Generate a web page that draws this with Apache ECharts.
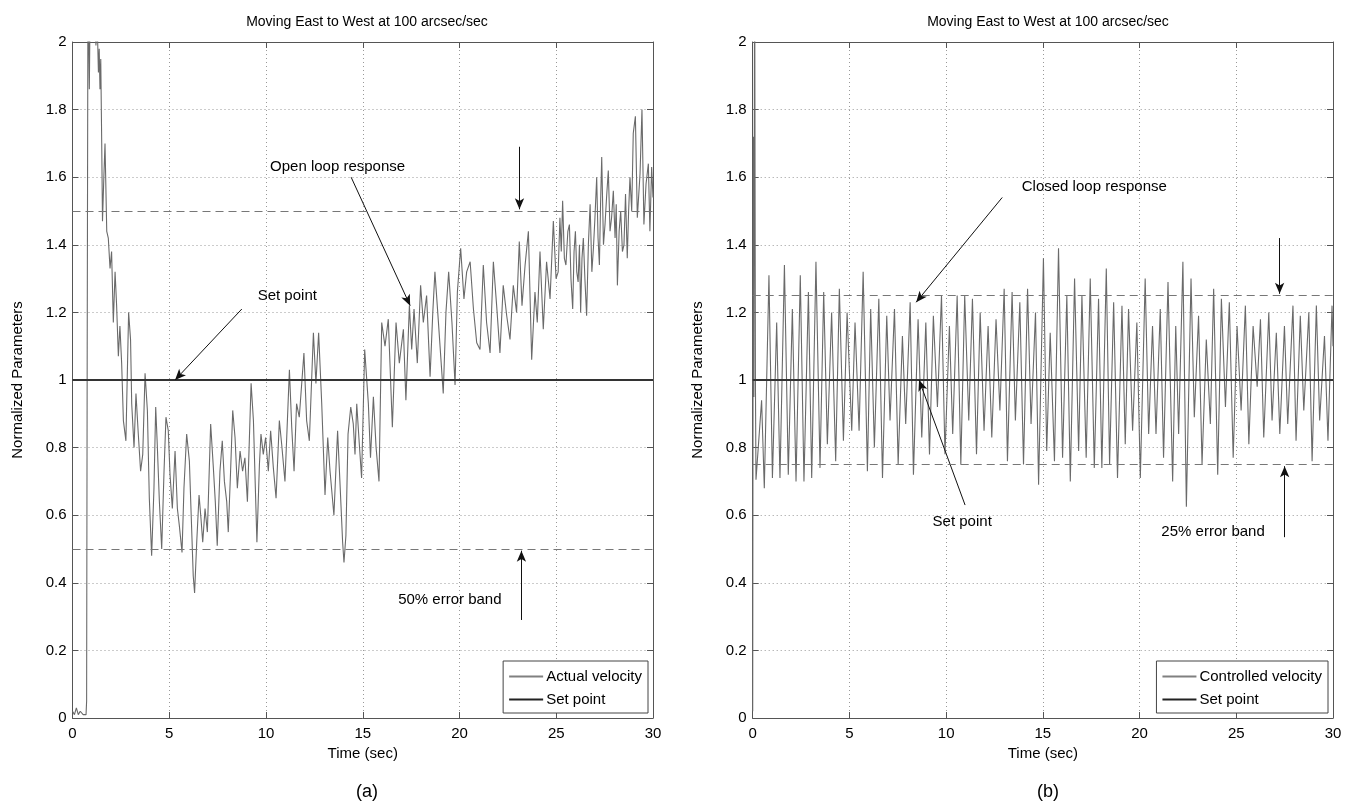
<!DOCTYPE html>
<html>
<head>
<meta charset="utf-8">
<script src="https://cdn.jsdelivr.net/npm/echarts@6/dist/echarts.min.js"></script>
<style>
html,body{margin:0;padding:0;background:#fff;}
#chart{width:1356px;height:807px;}
</style>
</head>
<body>
<div id="chart"></div>
<script>
// ---------- DATA ----------
const panelTitles = ['Moving East to West at 100 arcsec/sec', 'Moving East to West at 100 arcsec/sec'];
const panelTags = ['(a)', '(b)'];
const xTicks = [0, 5, 10, 15, 20, 25, 30];
const yTicks = [0, 0.2, 0.4, 0.6, 0.8, 1, 1.2, 1.4, 1.6, 1.8, 2];
const setPoint = 1;
const leftBand = [1.5, 0.5];
const rightBand = [1.25, 0.75];

// (a) open loop: [time sec, normalized value]
const actualVelocity = [
[0,0.02],[0.1,0.01],[0.2,0.03],[0.3,0.01],[0.4,0.02],[0.55,0.01],[0.7,0.01],[0.73,0.05],[0.76,1.1],[0.8,2.2],
[0.87,1.86],[0.94,2.3],[1.05,2.4],[1.15,2.15],[1.21,1.99],[1.28,2.05],[1.34,1.91],[1.38,1.98],[1.42,1.86],[1.46,1.95],
[1.51,1.70],[1.55,1.47],[1.62,1.60],[1.68,1.70],[1.77,1.44],[1.85,1.42],[1.94,1.33],[2.02,1.38],[2.11,1.17],[2.2,1.32],
[2.28,1.22],[2.37,1.07],[2.45,1.16],[2.54,1.05],[2.63,0.88],[2.76,0.82],[2.9,1.20],[3.0,1.12],[3.06,0.93],[3.18,0.80],
[3.28,0.96],[3.4,0.84],[3.52,0.73],[3.63,0.78],[3.75,1.02],[3.87,0.91],[3.97,0.65],[4.09,0.48],[4.21,0.68],[4.3,0.92],
[4.38,0.81],[4.49,0.64],[4.61,0.50],[4.73,0.73],[4.83,0.89],[4.95,0.85],[5.04,0.72],[5.16,0.62],[5.3,0.79],[5.42,0.62],
[5.52,0.57],[5.66,0.49],[5.76,0.68],[5.9,0.84],[6.04,0.76],[6.14,0.59],[6.24,0.42],[6.31,0.37],[6.42,0.52],[6.54,0.66],
[6.64,0.59],[6.73,0.52],[6.85,0.62],[6.97,0.55],[7.14,0.87],[7.28,0.74],[7.38,0.64],[7.48,0.51],[7.62,0.73],[7.74,0.82],
[7.85,0.70],[7.97,0.64],[8.05,0.55],[8.17,0.73],[8.28,0.91],[8.4,0.83],[8.52,0.68],[8.66,0.79],[8.79,0.73],[8.91,0.77],
[9.04,0.64],[9.23,0.99],[9.35,0.88],[9.45,0.68],[9.53,0.52],[9.66,0.75],[9.74,0.84],[9.86,0.78],[9.98,0.83],[10.12,0.73],
[10.24,0.85],[10.38,0.74],[10.52,0.65],[10.69,0.88],[10.81,0.81],[10.98,0.70],[11.21,1.03],[11.33,0.86],[11.45,0.73],[11.58,0.93],
[11.72,0.89],[11.96,1.08],[12.1,0.88],[12.24,0.82],[12.45,1.14],[12.58,0.99],[12.72,1.14],[12.88,0.93],[13.05,0.66],[13.19,0.83],
[13.31,0.73],[13.51,0.60],[13.7,0.85],[13.82,0.70],[13.96,0.52],[14.03,0.46],[14.13,0.54],[14.24,0.84],[14.38,0.92],[14.51,0.87],
[14.6,0.78],[14.69,0.93],[14.8,0.83],[14.94,0.71],[15.1,1.09],[15.29,0.93],[15.4,0.77],[15.55,0.95],[15.69,0.80],[15.84,0.70],
[15.98,1.17],[16.15,1.10],[16.32,1.18],[16.53,0.86],[16.72,1.17],[16.89,1.05],[17.1,1.15],[17.23,0.94],[17.41,1.22],[17.53,1.09],
[17.65,1.21],[17.82,1.05],[17.99,1.28],[18.13,1.17],[18.3,1.25],[18.48,1.01],[18.62,1.20],[18.73,1.32],[18.9,1.18],[19.03,1.07],
[19.16,0.96],[19.3,1.20],[19.44,1.32],[19.61,1.17],[19.77,0.985],[19.89,1.26],[20.06,1.39],[20.23,1.24],[20.37,1.32],[20.55,1.35],
[20.72,1.21],[20.89,1.11],[21.06,1.09],[21.23,1.34],[21.4,1.17],[21.58,1.08],[21.75,1.35],[21.92,1.22],[22.09,1.08],[22.26,1.28],
[22.44,1.19],[22.61,1.12],[22.78,1.28],[22.95,1.20],[23.09,1.41],[23.23,1.22],[23.39,1.34],[23.56,1.44],[23.73,1.06],[23.9,1.26],
[24.02,1.17],[24.16,1.38],[24.33,1.15],[24.5,1.35],[24.68,1.24],[24.85,1.47],[24.99,1.30],[25.1,1.32],[25.19,1.48],[25.26,1.38],
[25.33,1.53],[25.42,1.36],[25.5,1.34],[25.6,1.44],[25.68,1.46],[25.76,1.30],[25.85,1.21],[25.92,1.38],[25.99,1.44],[26.06,1.32],
[26.13,1.29],[26.2,1.40],[26.26,1.20],[26.33,1.36],[26.4,1.42],[26.48,1.30],[26.57,1.19],[26.66,1.40],[26.75,1.52],[26.84,1.32],
[26.92,1.39],[27.0,1.48],[27.09,1.60],[27.16,1.42],[27.23,1.34],[27.29,1.52],[27.35,1.66],[27.44,1.40],[27.52,1.46],[27.6,1.54],
[27.69,1.62],[27.78,1.44],[27.86,1.48],[27.95,1.56],[28.04,1.42],[28.1,1.52],[28.16,1.28],[28.25,1.44],[28.33,1.50],[28.42,1.38],
[28.5,1.40],[28.58,1.55],[28.67,1.36],[28.74,1.50],[28.81,1.60],[28.9,1.50],[28.98,1.73],[29.09,1.78],[29.19,1.48],[29.33,1.61],
[29.43,1.80],[29.53,1.46],[29.64,1.58],[29.76,1.64],[29.84,1.44],[29.93,1.63],[30,1.54]
];

// (b) closed loop: [time sec, normalized value]
const controlledVelocity = [
[0,0.02],[0.03,1.72],[0.06,0.95],[0.1,2.3],[0.14,1.0],[0.17,0.705],[0.46,0.94],[0.6,0.68],[0.84,1.31],[1.02,0.71],
[1.24,1.17],[1.41,0.71],[1.64,1.34],[1.84,0.72],[2.05,1.21],[2.24,0.70],[2.46,1.31],[2.65,0.70],[2.88,1.26],[3.05,0.71],
[3.27,1.35],[3.48,0.74],[3.67,1.26],[3.86,0.81],[4.08,1.20],[4.29,0.76],[4.48,1.27],[4.69,0.82],[4.88,1.20],[5.12,0.85],
[5.29,1.17],[5.5,0.85],[5.71,1.32],[5.93,0.73],[6.1,1.21],[6.29,0.80],[6.52,1.24],[6.71,0.71],[6.93,1.19],[7.1,0.88],
[7.33,1.21],[7.52,0.75],[7.74,1.13],[7.91,0.87],[8.14,1.23],[8.31,0.72],[8.55,1.18],[8.74,0.83],[8.95,1.17],[9.14,0.78],
[9.34,1.19],[9.55,0.92],[9.76,1.25],[9.94,0.78],[10.17,1.16],[10.34,0.84],[10.57,1.25],[10.76,0.75],[10.96,1.25],[11.17,0.88],
[11.36,1.24],[11.57,0.78],[11.76,1.20],[11.96,0.85],[12.17,1.16],[12.36,0.83],[12.58,1.18],[12.78,0.91],[13.0,1.27],[13.17,0.76],
[13.41,1.26],[13.58,0.88],[13.81,1.23],[14.0,0.75],[14.21,1.27],[14.39,0.87],[14.62,1.20],[14.78,0.69],[15.03,1.36],[15.2,0.79],
[15.38,1.14],[15.6,0.76],[15.81,1.39],[16.02,0.77],[16.24,1.25],[16.42,0.70],[16.64,1.30],[16.85,0.79],[17.02,1.25],[17.24,0.77],
[17.45,1.30],[17.66,0.74],[17.88,1.24],[18.05,0.74],[18.28,1.33],[18.45,0.75],[18.66,1.23],[18.86,0.71],[19.09,1.22],[19.26,0.81],
[19.43,1.21],[19.64,0.85],[19.86,1.17],[20.04,0.71],[20.29,1.30],[20.47,0.84],[20.67,1.16],[20.85,0.84],[21.07,1.21],[21.24,0.77],
[21.47,1.29],[21.71,0.70],[21.87,1.16],[22.02,0.84],[22.24,1.35],[22.42,0.625],[22.66,1.30],[22.83,0.89],[23.05,1.19],[23.23,0.75],
[23.45,1.12],[23.66,0.87],[23.83,1.27],[24.04,0.72],[24.23,1.24],[24.44,0.92],[24.64,1.23],[24.84,0.77],[25.04,1.16],[25.25,0.91],
[25.47,1.22],[25.65,0.81],[25.87,1.16],[26.08,0.98],[26.25,1.18],[26.42,0.83],[26.68,1.20],[26.85,0.88],[27.07,1.14],[27.25,0.84],
[27.49,1.16],[27.66,0.87],[27.93,1.22],[28.09,0.82],[28.31,1.19],[28.49,0.91],[28.75,1.20],[28.92,0.76],[29.14,1.22],[29.31,0.88],
[29.56,1.13],[29.74,0.82],[29.95,1.22],[30,1.1]
];

// annotations: [text, [t, v] text centre], arrows: [[t1,v1],[t2,v2]] (head at second point)
const leftNotes = [['Open loop response',[13.7,1.63]],['Set point',[11.1,1.25]],['50% error band',[19.5,0.35]]];
const leftArrows = [[[14.4,1.60],[17.45,1.22]],[[8.75,1.21],[5.3,1.0]],[[23.1,1.69],[23.1,1.505]],[[23.2,0.29],[23.2,0.495]]];
const rightNotes = [['Closed loop response',[17.66,1.57]],['Set point',[10.83,0.58]],['25% error band',[23.8,0.55]]];
const rightArrows = [[[12.9,1.54],[8.45,1.23]],[[10.98,0.63],[8.6,1.0]],[[27.24,1.42],[27.24,1.255]],[[27.5,0.535],[27.5,0.745]]];

// ---------- CHART ----------
const FONT = 'Liberation Sans, Arial, Helvetica, sans-serif';
const AX = '#555';
const chart = echarts.init(document.getElementById('chart'));
const grids = [
  {left: 72.5, right: 703, top: 42, bottom: 89},
  {left: 752.7, right: 23, top: 42, bottom: 89}
];

function xAx(gi, top) {
  return {
    type: 'value', gridIndex: gi, min: 0, max: 30, interval: 5,
    position: top ? 'top' : 'bottom',
    name: top ? '' : 'Time (sec)', nameLocation: 'middle', nameGap: 26,
    nameTextStyle: {fontFamily: FONT, fontSize: 15, color: '#000'},
    axisLine: {onZero: false, lineStyle: {color: AX, width: 1}},
    axisTick: {inside: true, length: 6, lineStyle: {color: AX}},
    axisLabel: {show: !top, fontFamily: FONT, fontSize: 15, color: '#000', margin: 8},
    splitLine: {show: !top, lineStyle: {color: '#999', type: [1, 3], width: 1}}
  };
}
function yAx(gi, right) {
  return {
    type: 'value', gridIndex: gi, min: 0, max: 2, interval: 0.2,
    position: right ? 'right' : 'left',
    name: right ? '' : 'Normalized Parameters', nameLocation: 'middle', nameGap: 47,
    nameTextStyle: {fontFamily: FONT, fontSize: 15, color: '#000'},
    axisLine: {onZero: false, lineStyle: {color: AX, width: 1}},
    axisTick: {inside: true, length: 6, lineStyle: {color: AX}},
    axisLabel: {show: !right, fontFamily: FONT, fontSize: 15, color: '#000', margin: 6,
      formatter: v => String(+v.toFixed(1))},
    splitLine: {show: !right, lineStyle: {color: '#999', type: [1, 3], width: 1}}
  };
}

function notesMarkPoint(notes) {
  return {
    silent: true, animation: false,
    data: notes.map(n => ({
      coord: n[1], symbol: 'circle', symbolSize: 0, value: 0,
      label: {show: true, position: 'inside', formatter: n[0], fontFamily: FONT, fontSize: 15, color: '#000'}
    }))
  };
}
function arrowsMarkLine(arrows, bands) {
  const d = arrows.map(a => [
    {coord: a[0], symbol: 'none'},
    {coord: a[1], symbol: 'arrow', symbolSize: [7, 11]}
  ]);
  bands.forEach(b => d.push([
    {coord: [0, b], symbol: 'none', lineStyle: {color: '#777', type: [8, 5], width: 1.2}},
    {coord: [30, b], symbol: 'none'}
  ]));
  return {
    silent: true, animation: false, symbol: ['none', 'arrow'],
    label: {show: false},
    lineStyle: {color: '#111', width: 1, type: 'solid'},
    emphasis: {disabled: true},
    data: d
  };
}

const legendBase = {
  orient: 'vertical', bottom: 94, icon: 'rect',
  backgroundColor: '#fff', borderColor: '#444', borderWidth: 1, borderRadius: 0,
  padding: [8, 6, 6, 6], itemGap: 8, itemWidth: 34, itemHeight: 2,
  textStyle: {fontFamily: FONT, fontSize: 15, color: '#000', padding: [0, 0, 0, -2]}
};

const option = {
  animation: false,
  backgroundColor: '#fff',
  title: [
    {text: panelTitles[0], left: 362, top: 10, textAlign: 'center', textStyle: {fontFamily: FONT, fontSize: 14, fontWeight: 'normal', color: '#000'}},
    {text: panelTitles[1], left: 1043, top: 10, textAlign: 'center', textStyle: {fontFamily: FONT, fontSize: 14, fontWeight: 'normal', color: '#000'}},
    {text: panelTags[0], left: 362, top: 778, textAlign: 'center', textStyle: {fontFamily: FONT, fontSize: 18, fontWeight: 'normal', color: '#000'}},
    {text: panelTags[1], left: 1043, top: 778, textAlign: 'center', textStyle: {fontFamily: FONT, fontSize: 18, fontWeight: 'normal', color: '#000'}}
  ],
  grid: grids,
  legend: [
    Object.assign({}, legendBase, {data: ['Actual velocity', 'Set point'], right: 708}),
    Object.assign({}, legendBase, {data: ['Controlled velocity', 'Set point '], right: 28, formatter: n => n.trim()})
  ],
  xAxis: [xAx(0, false), xAx(1, false), xAx(0, true), xAx(1, true)],
  yAxis: [yAx(0, false), yAx(1, false), yAx(0, true), yAx(1, true)],
  series: [
    {name: 'Actual velocity', type: 'line', xAxisIndex: 0, yAxisIndex: 0, data: actualVelocity,
     symbol: 'none', clip: true, color: '#808080', lineStyle: {color: '#6a6a6a', width: 1.1}, z: 3},
    {name: 'Set point', type: 'line', xAxisIndex: 0, yAxisIndex: 0, data: [[0, setPoint], [30, setPoint]],
     symbol: 'none', color: '#222', lineStyle: {color: '#333', width: 2.2}, z: 4,
     markLine: arrowsMarkLine(leftArrows, leftBand), markPoint: notesMarkPoint(leftNotes)},
    {name: 'Controlled velocity', type: 'line', xAxisIndex: 1, yAxisIndex: 1, data: controlledVelocity,
     symbol: 'none', clip: true, color: '#808080', lineStyle: {color: '#6a6a6a', width: 1.1}, z: 3},
    {name: 'Set point ', type: 'line', xAxisIndex: 1, yAxisIndex: 1, data: [[0, setPoint], [30, setPoint]],
     symbol: 'none', color: '#222', lineStyle: {color: '#333', width: 2.2}, z: 4,
     markLine: arrowsMarkLine(rightArrows, rightBand), markPoint: notesMarkPoint(rightNotes)}
  ]
};
chart.setOption(option);
</script>
</body>
</html>
